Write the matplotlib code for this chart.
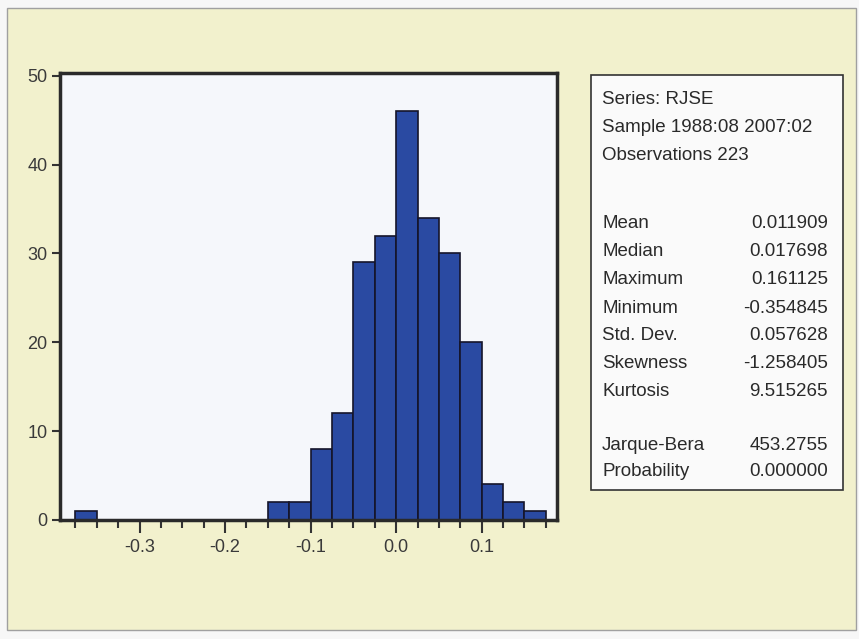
import matplotlib.pyplot as plt
from matplotlib.patches import Rectangle

# Histogram of RJSE returns (bins of width 0.025)
bin_left = [-0.375, -0.350, -0.325, -0.300, -0.275, -0.250, -0.225, -0.200,
            -0.175, -0.150, -0.125, -0.100, -0.075, -0.050, -0.025, 0.000,
            0.025, 0.050, 0.075, 0.100, 0.125, 0.150]
counts = [1, 0, 0, 0, 0, 0, 0, 0,
          0, 2, 2, 8, 12, 29, 32, 46,
          34, 30, 20, 4, 2, 1]
bin_width = 0.025

x_ticks = [-0.3, -0.2, -0.1, 0.0, 0.1]
x_tick_labels = ["-0.3", "-0.2", "-0.1", "0.0", "0.1"]
y_ticks = [0, 10, 20, 30, 40, 50]

header_lines = ["Series: RJSE", "Sample 1988:08 2007:02", "Observations 223"]
stat_names = ["Mean", "Median", "Maximum", "Minimum", "Std. Dev.",
              "Skewness", "Kurtosis"]
stat_values = ["0.011909", "0.017698", "0.161125", "-0.354845", "0.057628",
               "-1.258405", "9.515265"]
test_names = ["Jarque-Bera", "Probability"]
test_values = ["453.2755", "0.000000"]

W, H = 859, 639
plt.rcParams['font.family'] = ['Liberation Sans', 'DejaVu Sans']

fig = plt.figure(figsize=(W / 100, H / 100), dpi=100, facecolor="#f7f7f7")


def px(x, y):
    # pixel position (from top-left) -> figure fraction
    return x / W, 1 - y / H


# outer frame and yellow panel (behind the axes)
fig.patches.append(Rectangle((7 / W, 1 - 630 / H), 849 / W, 622 / H,
                             transform=fig.transFigure, facecolor="#f2f1cd",
                             edgecolor="#a0a0a0", linewidth=1.0, zorder=-10))

ax = fig.add_axes([60 / W, 1 - 520 / H, 497 / W, 447 / H])
ax.set_zorder(1)
ax.set_facecolor("#f5f7fb")
ax.bar(bin_left, counts, width=bin_width, align="edge",
       color="#2a4aa2", edgecolor="#15152a", linewidth=1.2)

ax.set_xlim(-0.393, 0.188)
ax.set_ylim(0, 50.3)
ax.set_xticks(x_ticks)
ax.set_xticklabels(x_tick_labels)
ax.set_xticks(bin_left + [0.175], minor=True)
ax.set_yticks(y_ticks)

for s in ax.spines.values():
    s.set_linewidth(2.5)
    s.set_color("#2a2a2a")

ax.tick_params(axis="both", which="both", direction="out", color="#333333",
               labelsize=13, labelcolor="#3a3a3a", width=1.5)
ax.tick_params(axis="x", which="major", length=9, pad=5)
ax.tick_params(axis="x", which="minor", length=6)
ax.tick_params(axis="y", which="major", length=6, pad=3)

# statistics box
fig.patches.append(Rectangle((591 / W, 1 - 490 / H), 252 / W, 415 / H,
                             transform=fig.transFigure, facecolor="#fafafa",
                             edgecolor="#333333", linewidth=1.2, zorder=1))

label_x = 602
value_x = 828
fs = 13.5
tc = "#2a2a2a"
for i, line in enumerate(header_lines):
    fig.text(*px(label_x, 100 + 28 * i), line, fontsize=fs, color=tc,
             va="center", ha="left", zorder=2)
for i, (name, val) in enumerate(zip(stat_names, stat_values)):
    y = 224 + 28 * i
    fig.text(*px(label_x, y), name, fontsize=fs, color=tc, va="center", ha="left", zorder=2)
    fig.text(*px(value_x, y), val, fontsize=fs, color=tc, va="center", ha="right", zorder=2)
for i, (name, val) in enumerate(zip(test_names, test_values)):
    y = 445 + 27 * i
    fig.text(*px(label_x, y), name, fontsize=fs, color=tc, va="center", ha="left", zorder=2)
    fig.text(*px(value_x, y), val, fontsize=fs, color=tc, va="center", ha="right", zorder=2)

fig.savefig("out.png", dpi=100, facecolor=fig.get_facecolor())
